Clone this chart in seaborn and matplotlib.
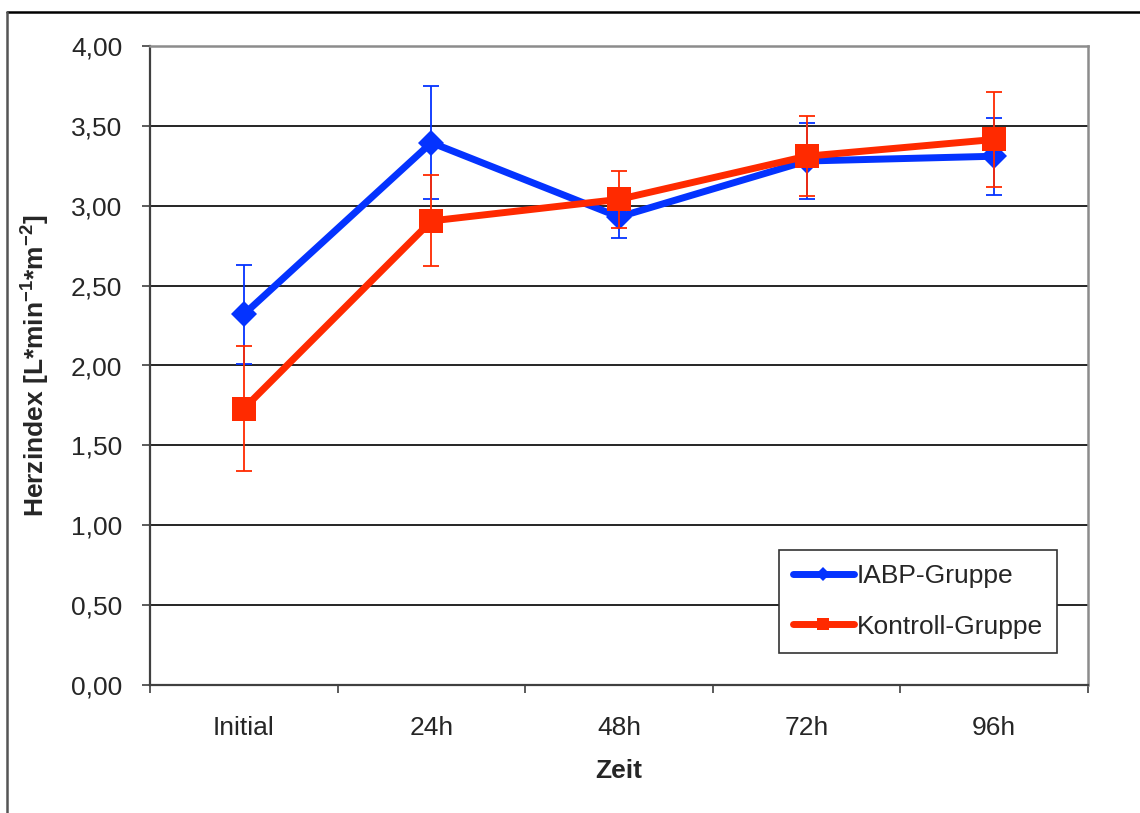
import numpy as np
import pandas as pd
import seaborn as sns
import matplotlib.pyplot as plt
from matplotlib.lines import Line2D

zeit = ["Initial", "24h", "48h", "72h", "96h"]
iabp = [2.32, 3.395, 2.93, 3.28, 3.31]
iabp_err = [0.31, 0.355, 0.13, 0.24, 0.24]
kontroll = [1.73, 2.905, 3.04, 3.31, 3.415]
kontroll_err = [0.39, 0.285, 0.18, 0.25, 0.295]
y_ticks = [0.0, 0.5, 1.0, 1.5, 2.0, 2.5, 3.0, 3.5, 4.0]
y_labels = ["0,00", "0,50", "1,00", "1,50", "2,00", "2,50", "3,00", "3,50", "4,00"]

sns.set_theme(style="white")
plt.rcParams['font.family'] = ['Liberation Sans', 'DejaVu Sans']
plt.rcParams['mathtext.fontset'] = 'custom'
plt.rcParams['mathtext.bf'] = 'Liberation Sans:bold'
plt.rcParams['mathtext.rm'] = 'Liberation Sans:bold'

BLUE = "#0433FF"
RED = "#FF2A00"

fig = plt.figure(figsize=(11.4, 8.13), dpi=100)
ax = fig.add_axes([150/1140, 1-685/813, (1088-150)/1140, (685-46)/813])

pos = np.arange(len(zeit))
df_i = pd.DataFrame({"pos": pos, "val": iabp})
df_k = pd.DataFrame({"pos": pos, "val": kontroll})

# grid
for yv in y_ticks[1:]:
    ax.axhline(yv, color="black", lw=1.2, zorder=0)

ax.errorbar(pos, iabp, yerr=iabp_err, fmt="none", ecolor=BLUE, elinewidth=1.3,
            capsize=6, capthick=1.3, zorder=3)
sns.lineplot(data=df_i, x="pos", y="val", ax=ax, color=BLUE, lw=5, marker="D",
             markersize=13, markeredgewidth=0, label="IABP-Gruppe", zorder=4)
ax.errorbar(pos, kontroll, yerr=kontroll_err, fmt="none", ecolor=RED, elinewidth=1.3,
            capsize=6, capthick=1.3, zorder=5)
sns.lineplot(data=df_k, x="pos", y="val", ax=ax, color=RED, lw=5, marker="s",
             markersize=17, markeredgewidth=0, label="Kontroll-Gruppe", zorder=6)

ax.set_xlim(-0.5, 4.5)
ax.set_ylim(0, 4.0)
ax.set_yticks(y_ticks)
ax.set_yticklabels(y_labels, fontsize=19)
ax.set_xticks(np.arange(-0.5, 5, 1.0))
ax.set_xticklabels([])
ax.set_xticks(pos, minor=True)
ax.set_xticklabels(zeit, minor=True, fontsize=19)
ax.tick_params(axis="x", which="major", direction="out", length=6, width=1.2,
               color="#404040", bottom=True)
ax.tick_params(axis="x", which="minor", length=0, pad=22)
ax.tick_params(axis="y", direction="out", length=6, width=1.2, color="#404040",
               left=True, pad=14)

for s in ["left", "bottom"]:
    ax.spines[s].set_color("#404040")
    ax.spines[s].set_linewidth(1.6)
for s in ["top", "right"]:
    ax.spines[s].set_color("#8c8c8c")
    ax.spines[s].set_linewidth(1.8)
    ax.spines[s].set_visible(True)

ax.set_xlabel("Zeit", fontsize=19, fontweight="bold", labelpad=14)
ax.set_ylabel(r"Herzindex [L*min$^{\mathbf{-1}}$*m$^{\mathbf{-2}}$]", fontsize=19,
              fontweight="bold", labelpad=14)

leg = ax.legend(loc="lower right", bbox_to_anchor=(0.967, 0.05), borderaxespad=0,
                fontsize=19, frameon=True, fancybox=False, edgecolor="#333333",
                framealpha=1, markerscale=0.55, handlelength=2.3, handletextpad=0.1,
                labelspacing=1.0, borderpad=0.55)
leg.get_frame().set_linewidth(1.2)

# outer frame lines
fig.add_artist(Line2D([7/1140, 1.0], [1-12/813, 1-12/813], transform=fig.transFigure,
                      color="black", lw=1.8))
fig.add_artist(Line2D([7/1140, 7/1140], [0, 1-12/813], transform=fig.transFigure,
                      color="#555555", lw=1.8))

fig.savefig("out.png", dpi=100)
